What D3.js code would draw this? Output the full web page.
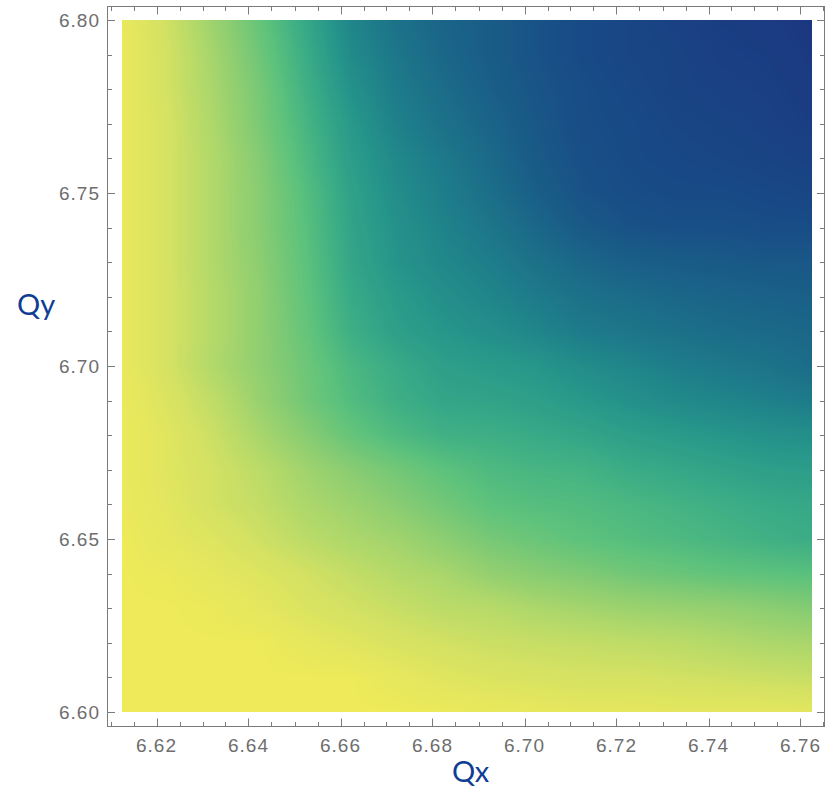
<!DOCTYPE html>
<html>
<head>
<meta charset="utf-8">
<script src="https://cdn.jsdelivr.net/npm/d3@7"></script>
<style>
  body { margin: 0; background: #fff; }
  svg { display: block; }
</style>
</head>
<body>
<svg id="chart" width="829" height="787"></svg>
<script>
// Tune grid (horizontal Qx, vertical Qy) and the sampled quantity on it
const qxGrid = [6.6125, 6.6225, 6.6325, 6.6425, 6.6525, 6.6625, 6.6725, 6.6825,
                6.6925, 6.7025, 6.7125, 6.7225, 6.7325, 6.7425, 6.7525, 6.7625];
const qyGrid = [6.60, 6.61, 6.62, 6.63, 6.64, 6.65, 6.66, 6.67, 6.68, 6.69, 6.70,
                6.71, 6.72, 6.73, 6.74, 6.75, 6.76, 6.77, 6.78, 6.79, 6.80];

// one row per Qy value (ascending), one entry per Qx value
const zRows = [
  [0.00,0.00,0.00,0.00,0.00,0.00,0.00,0.01,0.02,0.03,0.04,0.04,0.045,0.045,0.045,0.05],
  [0.00,0.00,0.00,0.00,0.00,0.00,0.03,0.06,0.08,0.09,0.10,0.10,0.11,0.12,0.13,0.14],
  [0.00,0.00,0.00,0.00,0.03,0.06,0.09,0.11,0.13,0.14,0.15,0.16,0.17,0.19,0.21,0.22],
  [0.00,0.00,0.01,0.04,0.08,0.11,0.14,0.17,0.18,0.21,0.23,0.25,0.26,0.27,0.29,0.31],
  [0.00,0.01,0.04,0.07,0.11,0.15,0.19,0.22,0.27,0.30,0.32,0.35,0.37,0.39,0.40,0.41],
  [0.00,0.04,0.07,0.12,0.17,0.21,0.24,0.29,0.34,0.37,0.40,0.42,0.44,0.46,0.48,0.50],
  [0.01,0.05,0.11,0.15,0.21,0.25,0.30,0.35,0.40,0.42,0.43,0.45,0.47,0.49,0.51,0.52],
  [0.01,0.06,0.11,0.17,0.24,0.30,0.35,0.40,0.44,0.46,0.47,0.50,0.52,0.54,0.56,0.57],
  [0.01,0.06,0.13,0.22,0.30,0.38,0.44,0.48,0.49,0.51,0.53,0.56,0.58,0.60,0.62,0.63],
  [0.01,0.08,0.16,0.26,0.35,0.43,0.49,0.53,0.54,0.56,0.59,0.62,0.65,0.67,0.69,0.71],
  [0.02,0.10,0.20,0.28,0.36,0.45,0.51,0.56,0.58,0.60,0.64,0.67,0.70,0.72,0.74,0.77],
  [0.02,0.10,0.19,0.28,0.38,0.49,0.56,0.60,0.63,0.67,0.71,0.73,0.75,0.77,0.78,0.79],
  [0.02,0.10,0.19,0.28,0.39,0.51,0.58,0.63,0.67,0.71,0.75,0.77,0.79,0.80,0.81,0.82],
  [0.02,0.10,0.20,0.29,0.40,0.53,0.61,0.66,0.70,0.75,0.79,0.82,0.83,0.84,0.85,0.85],
  [0.02,0.10,0.20,0.30,0.41,0.54,0.62,0.68,0.73,0.79,0.84,0.87,0.88,0.88,0.89,0.89],
  [0.02,0.10,0.20,0.30,0.42,0.55,0.64,0.70,0.76,0.82,0.87,0.89,0.90,0.90,0.91,0.92],
  [0.02,0.10,0.20,0.31,0.44,0.57,0.66,0.72,0.78,0.84,0.88,0.90,0.91,0.92,0.93,0.94],
  [0.02,0.10,0.21,0.33,0.46,0.59,0.69,0.75,0.80,0.85,0.89,0.90,0.92,0.93,0.94,0.96],
  [0.02,0.11,0.22,0.34,0.48,0.62,0.71,0.77,0.82,0.86,0.89,0.91,0.93,0.94,0.95,0.97],
  [0.02,0.11,0.23,0.36,0.50,0.65,0.73,0.79,0.83,0.87,0.90,0.92,0.93,0.95,0.96,0.98],
  [0.02,0.12,0.25,0.38,0.52,0.67,0.75,0.80,0.83,0.87,0.90,0.92,0.94,0.96,0.97,0.99]
];

// Colour ramp (yellow -> green -> teal -> deep blue)
const colorStops  = [0.0, 0.1, 0.2, 0.3, 0.4, 0.5, 0.6, 0.7, 0.8, 0.9, 1.0];
const colorValues = ["#eeea5a", "#d6e262", "#b0d86a", "#88cc72", "#5cc27c", "#3aac86",
                     "#26968a", "#1e7e8a", "#1a6488", "#184a86", "#1c3580"];

// Tick values
const xMajorTicks = [6.62, 6.64, 6.66, 6.68, 6.70, 6.72, 6.74, 6.76];
const xMinorTicks = d3.range(0, 32).map(i => +(6.61 + i * 0.005).toFixed(3));
const yMajorTicks = [6.60, 6.65, 6.70, 6.75, 6.80];
const yMinorTicks = d3.range(0, 21).map(i => +(6.60 + i * 0.01).toFixed(2));

const svg = d3.select("#chart");

const plot = { left: 122, right: 812, top: 20, bottom: 712 };
const frame = { left: 107.5, right: 824.5, top: 6.5, bottom: 726.5 };

const x = d3.scaleLinear().domain([6.6125, 6.7625]).range([plot.left, plot.right]);
const y = d3.scaleLinear().domain([6.60, 6.80]).range([plot.bottom, plot.top]);

const color = d3.scaleLinear().domain(colorStops).range(colorValues)
  .interpolate(d3.interpolateRgb).clamp(true);

// fractional grid index for a tune value
const xi = d3.scaleLinear().domain(qxGrid).range(d3.range(qxGrid.length)).clamp(true);
const yi = d3.scaleLinear().domain(qyGrid).range(d3.range(qyGrid.length)).clamp(true);

// colour lookup table
const LUT = d3.range(256).map(i => d3.rgb(color(i / 255)));

// Density image: bilinear smoothing of the grid values
const W = plot.right - plot.left, H = plot.bottom - plot.top;
const canvas = document.createElement("canvas");
canvas.width = W; canvas.height = H;
const ctx = canvas.getContext("2d");
const img = ctx.createImageData(W, H);
const nx = qxGrid.length, ny = qyGrid.length;
const fxCol = new Float64Array(W);
for (let px = 0; px < W; px++) fxCol[px] = xi(x.invert(plot.left + px + 0.5));
for (let py = 0; py < H; py++) {
  const fy = yi(y.invert(plot.top + py + 0.5));
  const j0 = Math.min(Math.floor(fy), ny - 2), ty = fy - j0;
  const r0 = zRows[j0], r1 = zRows[j0 + 1];
  for (let px = 0; px < W; px++) {
    const fx = fxCol[px];
    const i0 = Math.min(Math.floor(fx), nx - 2), tx = fx - i0;
    const a = r0[i0] * (1 - tx) + r0[i0 + 1] * tx;
    const b = r1[i0] * (1 - tx) + r1[i0 + 1] * tx;
    const v = a * (1 - ty) + b * ty;
    const c = LUT[Math.max(0, Math.min(255, Math.round(v * 255)))];
    const k = (py * W + px) * 4;
    img.data[k] = c.r; img.data[k + 1] = c.g; img.data[k + 2] = c.b; img.data[k + 3] = 255;
  }
}
ctx.putImageData(img, 0, 0);

svg.append("image")
  .attr("x", plot.left).attr("y", plot.top)
  .attr("width", W).attr("height", H)
  .attr("preserveAspectRatio", "none")
  .attr("href", canvas.toDataURL());

// Frame
svg.append("rect")
  .attr("x", frame.left).attr("y", frame.top)
  .attr("width", frame.right - frame.left).attr("height", frame.bottom - frame.top)
  .attr("fill", "none").attr("stroke", "#7a7a7a").attr("stroke-width", 1);

const tickColor = "#7a7a7a";
const ticks = svg.append("g").attr("stroke", tickColor).attr("stroke-width", 1);

function xTicks(vals, len) {
  vals.forEach(v => {
    const px = Math.round(x(v)) + 0.5;
    ticks.append("line").attr("x1", px).attr("x2", px)
      .attr("y1", frame.bottom).attr("y2", frame.bottom - len);
    ticks.append("line").attr("x1", px).attr("x2", px)
      .attr("y1", frame.top).attr("y2", frame.top + len);
  });
}
function yTicks(vals, len) {
  vals.forEach(v => {
    const py = Math.round(y(v)) + 0.5;
    ticks.append("line").attr("y1", py).attr("y2", py)
      .attr("x1", frame.left).attr("x2", frame.left + len);
    ticks.append("line").attr("y1", py).attr("y2", py)
      .attr("x1", frame.right).attr("x2", frame.right - len);
  });
}
xTicks(xMinorTicks.filter(v => !xMajorTicks.some(m => Math.abs(m - v) < 1e-6)), 4.5);
xTicks(xMajorTicks, 8);
yTicks(yMinorTicks.filter(v => !yMajorTicks.some(m => Math.abs(m - v) < 1e-6)), 4.5);
yTicks(yMajorTicks, 7.5);

// Tick labels
const labelStyle = sel => sel
  .attr("font-family", "'Liberation Sans', Arial, sans-serif")
  .attr("font-size", 19).attr("fill", "#6e6e6e").attr("letter-spacing", 1);

svg.append("g").selectAll("text").data(xMajorTicks).join("text")
  .call(labelStyle)
  .attr("x", d => x(d)).attr("y", 752)
  .attr("text-anchor", "middle")
  .text(d => d3.format(".2f")(d));

svg.append("g").selectAll("text").data(yMajorTicks).join("text")
  .call(labelStyle)
  .attr("x", 100).attr("y", d => y(d))
  .attr("dy", "0.36em")
  .attr("text-anchor", "end")
  .text(d => d3.format(".2f")(d));

// Axis titles
const titleStyle = sel => sel
  .attr("font-family", "Lato, 'Open Sans', sans-serif")
  .attr("font-size", 29).attr("fill", "#0f3c94");

svg.append("text").call(titleStyle)
  .attr("x", 452).attr("y", 782).text("Qx");
svg.append("text").call(titleStyle)
  .attr("x", 17).attr("y", 315).text("Qy");
</script>
</body>
</html>
